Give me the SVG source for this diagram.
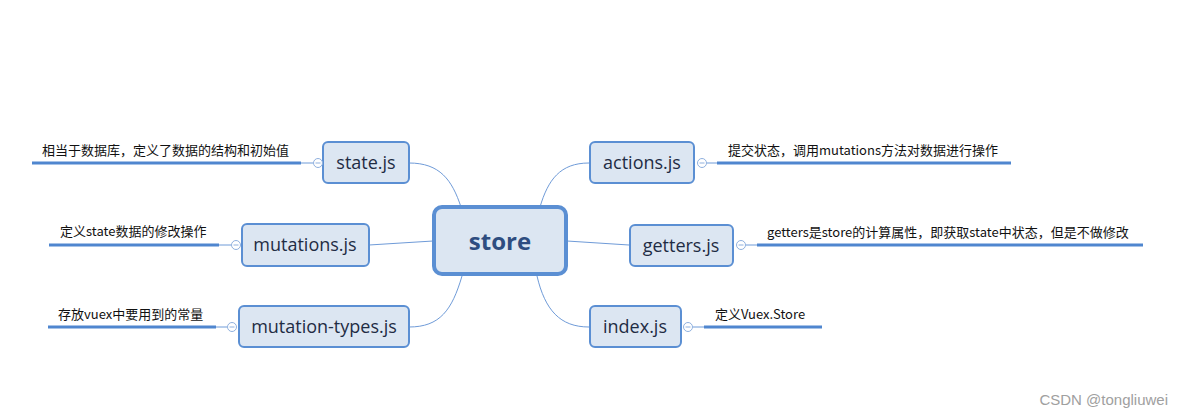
<svg xmlns="http://www.w3.org/2000/svg" width="1184" height="418" viewBox="0 0 1184 418">
<style>
.node rect{fill:#dce6f2;stroke:#5b8fd3;stroke-width:2}
.node text.nt{font-family:"Open Sans","Noto Sans",sans-serif;font-size:18px;fill:#1f2c44;text-anchor:middle}
.node text.lbl{font-family:"Noto Sans CJK SC","Noto Sans CJK JP",sans-serif;font-size:13px;fill:#111;text-anchor:start}
.bar{stroke:#4f86cf;stroke-width:3;fill:none}
.tick{stroke:#6f9bd8;stroke-width:1;fill:none}
.col{fill:#fff;stroke:#8fb0de;stroke-width:1}
.col-m{stroke:#8fb0de;stroke-width:1}
.conn path{stroke:#6f9bd8;stroke-width:1;fill:none}
</style>
<rect width="1184" height="418" fill="#fff"/>
<g class="conn">
<path d="M409,163 C440,163 452,180 461,207"/>
<path d="M589,163 C560,163 548,180 540,207"/>
<path d="M369,245 L433,241"/>
<path d="M567,241 L629,245"/>
<path d="M409,327 C440,327 452,310 462,276"/>
<path d="M589,327 C560,327 545,310 537,276"/>
</g>
<g id="store" class="node">
<rect x="434" y="207" width="132" height="67" rx="8" style="stroke-width:4"/>
<text class="nt" x="500" y="250" style="font-size:24px;font-weight:bold;fill:#2e4d80">store</text>
</g>
<g id="state" class="node">
<rect x="323" y="142" width="86" height="41" rx="5"/>
<text class="nt" x="366" y="169">state.js</text>
<path class="tick" d="M301,163 H313"/>
<circle class="col" cx="318" cy="163" r="4.5"/><path class="col-m" d="M315.5,163 H320.5"/>
<path class="bar" d="M32,163 H301"/>
<text class="lbl" x="42" y="155">相当于数据库，定义了数据的结构和初始值</text>
</g>
<g id="mutations" class="node">
<rect x="242" y="224" width="127" height="42" rx="5"/>
<text class="nt" x="305" y="251">mutations.js</text>
<path class="tick" d="M219,245 H231"/>
<circle class="col" cx="236" cy="245" r="4.5"/><path class="col-m" d="M233.5,245 H238.5"/>
<path class="bar" d="M49,245 H219"/>
<text class="lbl" x="60" y="236">定义state数据的修改操作</text>
</g>
<g id="mutation-types" class="node">
<rect x="239" y="306" width="170" height="41" rx="5"/>
<text class="nt" x="324" y="333">mutation-types.js</text>
<path class="tick" d="M216,327 H227"/>
<circle class="col" cx="232" cy="327" r="4.5"/><path class="col-m" d="M229.5,327 H234.5"/>
<path class="bar" d="M48,327 H216"/>
<text class="lbl" x="58" y="319">存放vuex中要用到的常量</text>
</g>
<g id="actions" class="node">
<rect x="590" y="142" width="104" height="41" rx="5"/>
<text class="nt" x="642" y="169">actions.js</text>
<circle class="col" cx="702" cy="163" r="4.5"/><path class="col-m" d="M699.5,163 H704.5"/>
<path class="tick" d="M707,163 H717"/>
<path class="bar" d="M717,163 H1011"/>
<text class="lbl" x="728" y="155">提交状态，调用mutations方法对数据进行操作</text>
</g>
<g id="getters" class="node">
<rect x="630" y="225" width="103" height="41" rx="5"/>
<text class="nt" x="681" y="252">getters.js</text>
<circle class="col" cx="741" cy="245" r="4.5"/><path class="col-m" d="M738.5,245 H743.5"/>
<path class="tick" d="M746,245 H757"/>
<path class="bar" d="M757,245 H1143"/>
<text class="lbl" x="767" y="237">getters是store的计算属性，即获取state中状态，但是不做修改</text>
</g>
<g id="index" class="node">
<rect x="590" y="306" width="91" height="41" rx="5"/>
<text class="nt" x="635" y="333">index.js</text>
<circle class="col" cx="688" cy="327" r="4.5"/><path class="col-m" d="M685.5,327 H690.5"/>
<path class="tick" d="M693,327 H704"/>
<path class="bar" d="M704,327 H822"/>
<text class="lbl" x="715" y="319">定义Vuex.Store</text>
</g>
<text x="1168" y="405" text-anchor="end" style="font-family:'Liberation Sans',sans-serif;font-size:15px;fill:#a0a0a0">CSDN @tongliuwei</text>
</svg>
